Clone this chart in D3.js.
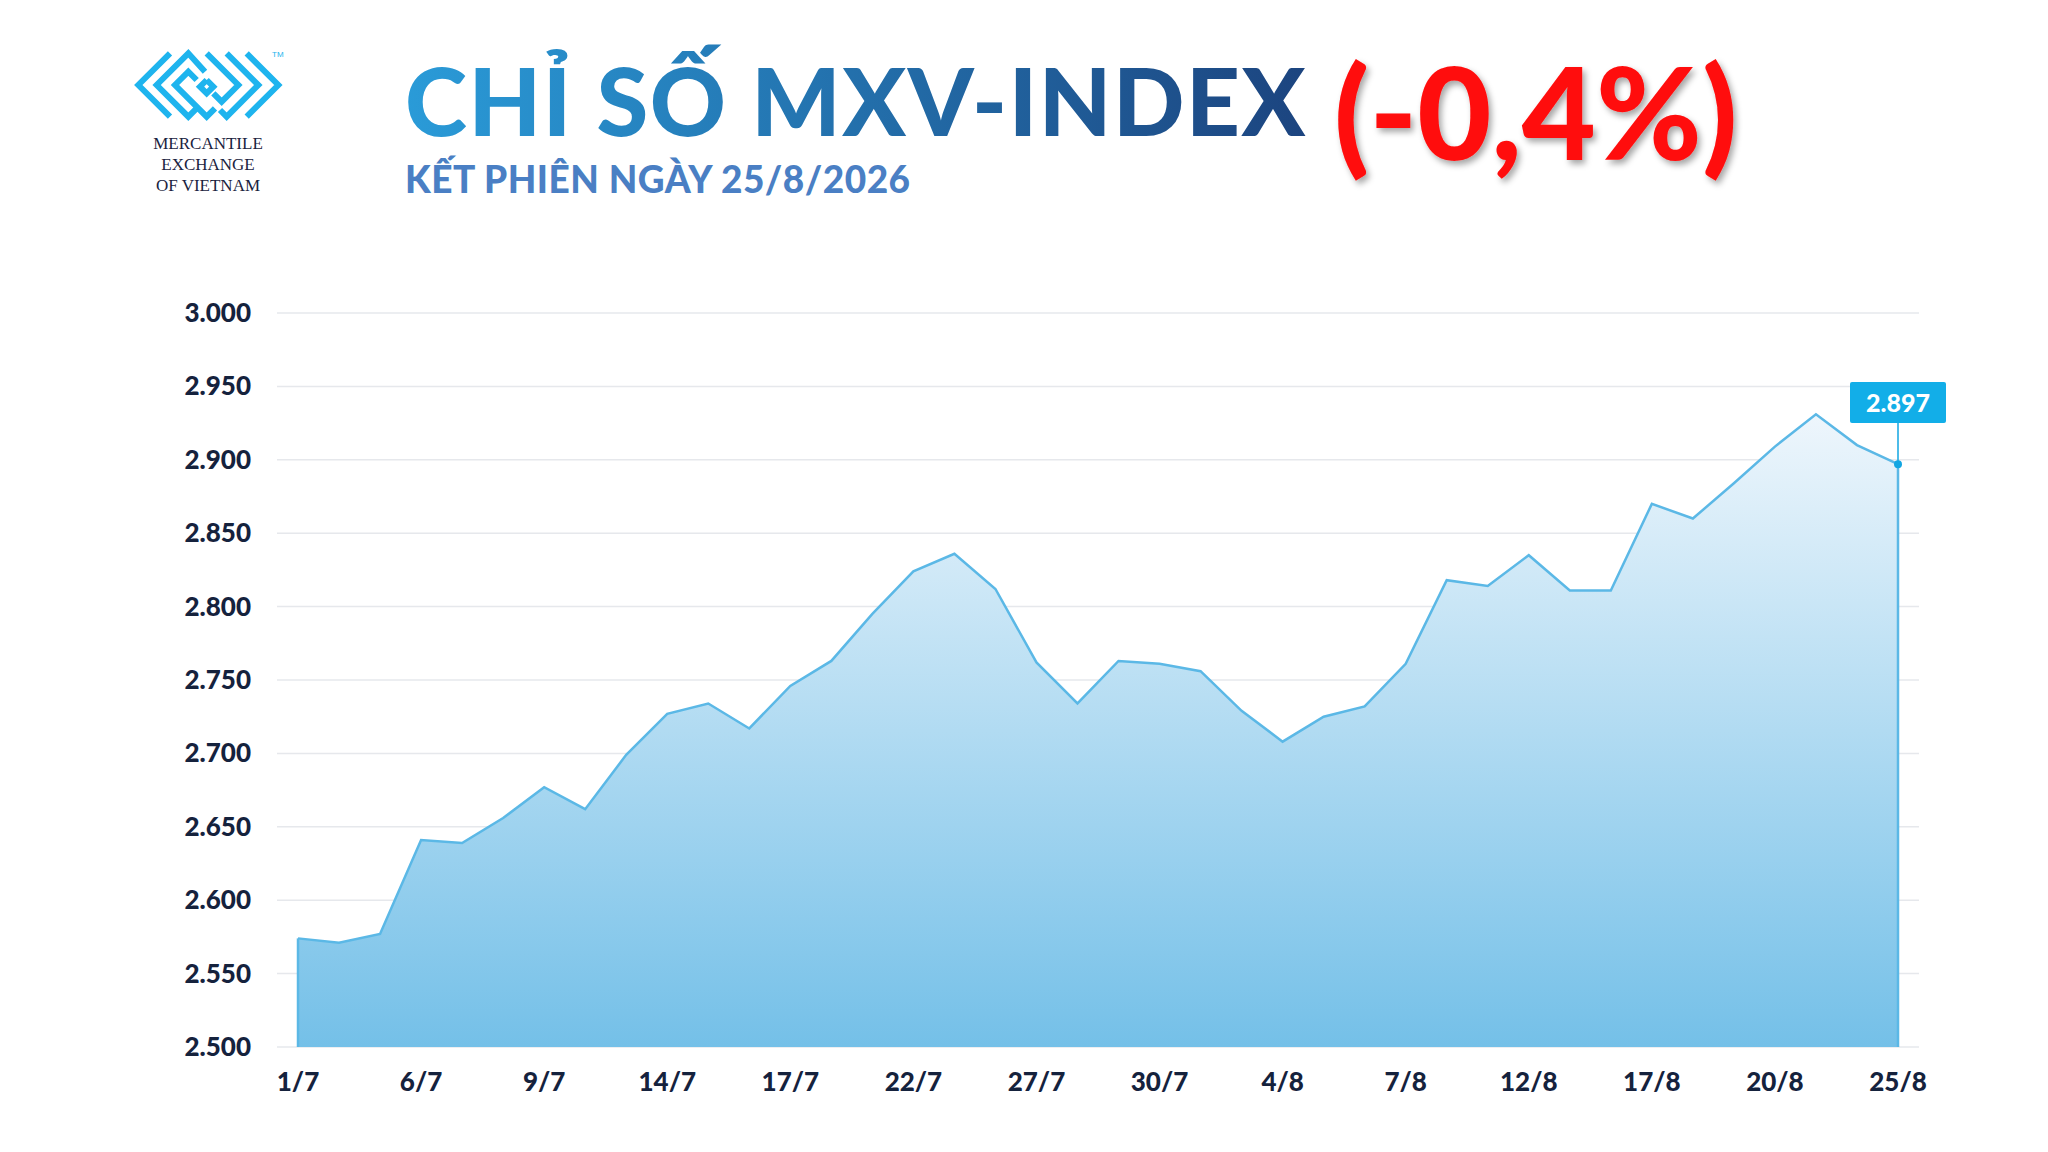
<!DOCTYPE html>
<html><head><meta charset="utf-8">
<script src="https://cdn.jsdelivr.net/npm/d3@7"></script>
<style>body{margin:0;background:#fff}</style>
</head><body>
<script>
// data
var dates = ["1/7","2/7","3/7","6/7","7/7","8/7","9/7","10/7","13/7","14/7","15/7","16/7","17/7","20/7","21/7","22/7","23/7","24/7","27/7","28/7","29/7","30/7","31/7","3/8","4/8","5/8","6/8","7/8","10/8","11/8","12/8","13/8","14/8","17/8","18/8","19/8","20/8","21/8","24/8","25/8"];
var values = [2574,2571,2577,2641,2639,2656,2677,2662,2699,2727,2734,2717,2746,2763,2795,2824,2836,2812,2762,2734,2763,2761,2756,2729,2708,2725,2732,2761,2818,2814,2835,2811,2811,2870,2860,2884,2909,2931,2910,2897];
var yTicks = [2500,2550,2600,2650,2700,2750,2800,2850,2900,2950,3000];
var xTickLabels = ["1/7","6/7","9/7","14/7","17/7","22/7","27/7","30/7","4/8","7/8","12/8","17/8","20/8","25/8"];

var W = 2048, H = 1152;
var svg = d3.select("body").append("svg").attr("width", W).attr("height", H);
var defs = svg.append("defs");

var fmt = function(v){ return d3.format(",")(v).replace(/,/g, "."); };

// gradients
var ag = defs.append("linearGradient").attr("id","area").attr("x1",0).attr("y1",0).attr("x2",0).attr("y2",1);
ag.append("stop").attr("offset","0%").attr("stop-color","#eef6fc");
ag.append("stop").attr("offset","100%").attr("stop-color","#74c0e8");
var tg = defs.append("linearGradient").attr("id","title").attr("x1",0).attr("y1",0).attr("x2",1).attr("y2",0);
tg.append("stop").attr("offset","0%").attr("stop-color","#2a9bd8");
tg.append("stop").attr("offset","100%").attr("stop-color","#1c447f");
var sh = defs.append("filter").attr("id","shadow").attr("x","-10%").attr("y","-10%").attr("width","130%").attr("height","130%");
sh.append("feDropShadow").attr("dx",3).attr("dy",4).attr("stdDeviation",3).attr("flood-color","#000").attr("flood-opacity",0.35);

// scales
var x = d3.scalePoint().domain(dates).range([298, 1898]);
var y = d3.scaleLinear().domain([2500, 3000]).range([1047, 313]);

// grid
svg.append("g").selectAll("line").data(yTicks).enter().append("line")
  .attr("x1", 277).attr("x2", 1919)
  .attr("y1", function(d){ return y(d); }).attr("y2", function(d){ return y(d); })
  .attr("stroke", "#e6e8ec").attr("stroke-width", 1.5);

// y labels
svg.append("g").selectAll("text").data(yTicks).enter().append("text")
  .attr("x", 251).attr("y", function(d){ return y(d) + 9; })
  .attr("text-anchor","end").attr("font-family","Lato, sans-serif").attr("font-weight",900)
  .attr("font-size", 26).attr("fill","#15223d").text(fmt);

// x labels
svg.append("g").selectAll("text").data(xTickLabels).enter().append("text")
  .attr("x", function(d){ return x(d); }).attr("y", 1091)
  .attr("text-anchor","middle").attr("font-family","Lato, sans-serif").attr("font-weight",900)
  .attr("font-size", 26).attr("fill","#15223d").text(function(d){ return d; });

// area + line
var pts = dates.map(function(d,i){ return [d, values[i]]; });
svg.append("path").datum(pts)
  .attr("d", d3.area().x(function(d){ return x(d[0]); }).y0(y(2500)).y1(function(d){ return y(d[1]); }))
  .attr("fill","url(#area)");
svg.append("path").datum(pts)
  .attr("d", d3.line().x(function(d){ return x(d[0]); }).y(function(d){ return y(d[1]); }))
  .attr("fill","none").attr("stroke","#5bb8e6").attr("stroke-width",2.5);
var last = pts[pts.length-1];
svg.append("line").attr("x1", x(dates[0])).attr("x2", x(dates[0])).attr("y1", y(values[0])).attr("y2", y(2500)).attr("stroke","#5bb8e6").attr("stroke-width",2.5);
svg.append("line").attr("x1", x(last[0])).attr("x2", x(last[0])).attr("y1", y(last[1])).attr("y2", y(2500)).attr("stroke","#5bb8e6").attr("stroke-width",2.5);

// last value tag
var lx = x(last[0]), ly = y(last[1]);
svg.append("line").attr("x1", lx).attr("x2", lx).attr("y1", ly).attr("y2", 423).attr("stroke","#12a6e2").attr("stroke-width",1.5);
svg.append("circle").attr("cx", lx).attr("cy", ly).attr("r",4).attr("fill","#12a6e2");
svg.append("rect").attr("x", lx - 48).attr("y", 382).attr("width", 96).attr("height", 41).attr("rx",2).attr("fill","#12aee8");
svg.append("text").attr("x", lx).attr("y", 412).attr("text-anchor","middle")
  .attr("font-family","Lato, sans-serif").attr("font-weight",900).attr("font-size",25).attr("fill","#fff").text(fmt(last[1]));

// title
svg.append("text").attr("x", 405).attr("y", 136).attr("font-family","Lato, sans-serif").attr("font-weight",900)
  .attr("font-size", 94).attr("letter-spacing", 1.5).attr("fill","url(#title)").text("CHỈ SỐ MXV-INDEX");
svg.append("text").attr("x", 1334).attr("y", 160).attr("font-family","Lato, sans-serif").attr("font-weight",900)
  .attr("font-size", 128).attr("fill","#ff0a0a").attr("filter","url(#shadow)").text("(-0,4%)");
svg.append("text").attr("x", 405).attr("y", 193).attr("font-family","Lato, sans-serif").attr("font-weight",900)
  .attr("font-size", 37).attr("letter-spacing", 0.5).attr("fill","#4a7fc4").text("KẾT PHIÊN NGÀY 25/8/2026");

// logo (zoom-grid coords converted to page)
var lp = function(a){ return a.map(function(p){ return [125 + p[0]/3, 45 + p[1]/3]; }); };
var logo = svg.append("g").attr("fill","none").attr("stroke","#1eb4ee").attr("stroke-width",6).attr("stroke-linejoin","miter");
var chev = [
  [[135,25],[40,120],[135,215]],
  [[240,80],[190,25],[95,120],[190,215],[215,190]],
  [[215,105],[190,80],[150,120],[245,215],[270,190]],
  [[365,25],[460,120],[365,215]],
  [[305,25],[400,120],[305,215],[285,195]],
  [[245,25],[340,120],[290,170],[265,145]],
  [[245,105],[265,125],[245,145],[225,125],[245,105]]
];
chev.forEach(function(p){ logo.append("path").attr("d", d3.line()(lp(p))); });
svg.append("text").attr("x",272).attr("y",57).attr("font-size",8).attr("fill","#1eb4ee").attr("font-family","Liberation Sans").text("TM");
["MERCANTILE","EXCHANGE","OF VIETNAM"].forEach(function(t,i){
  svg.append("text").attr("x",208).attr("y",149 + i*21).attr("text-anchor","middle")
    .attr("font-family","Liberation Serif, serif").attr("font-size",17).attr("fill","#1a2340").text(t);
});
</script>
</body></html>
